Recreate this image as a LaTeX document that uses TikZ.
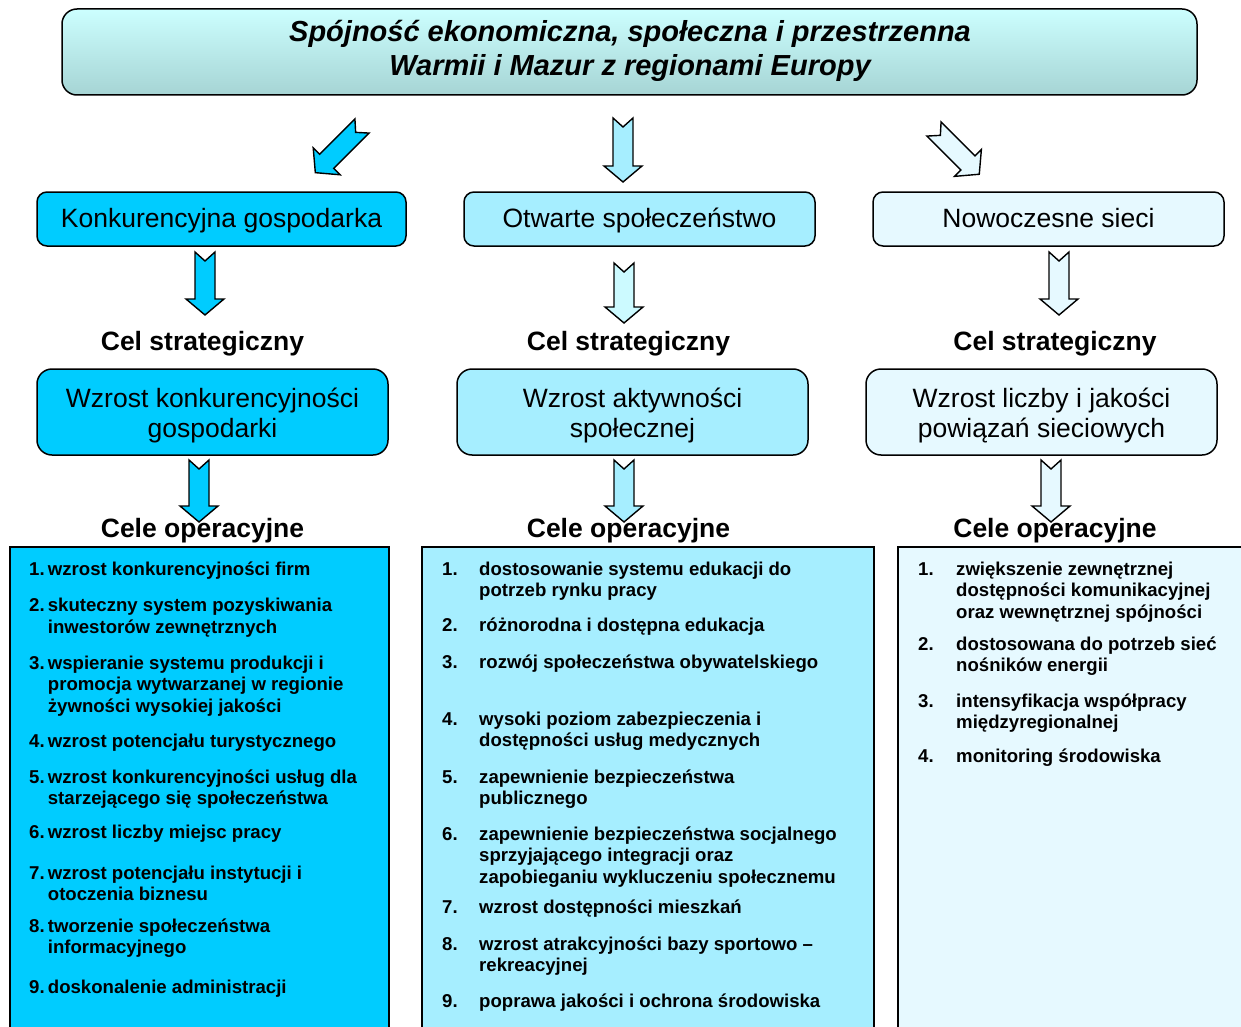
\documentclass[tikz,border=0pt]{standalone}
\usepackage{fontspec}
\setmainfont{Liberation Sans}
\definecolor{kblue}{HTML}{00CCFF}
\definecolor{mblue}{HTML}{A6EEFF}
\definecolor{lblue}{HTML}{E6F9FF}
\definecolor{marrow}{HTML}{CCFAFF}
\definecolor{ttop}{HTML}{CCFFFF}
\definecolor{tbot}{HTML}{A6D4D4}
\newcommand\mytitlefont{\fontsize{29}{34}\selectfont\bfseries\itshape}
\newcommand\myboxfont{\fontsize{26.5}{30}\selectfont}
\newcommand\mylabfont{\fontsize{26.5}{30}\selectfont\bfseries}
\newcommand\myitemfont{\fontsize{18.6}{21.5}\selectfont\bfseries}
\newcommand\istrut{\rule{0pt}{17pt}}
\tikzset{
  pics/blockarrow/.style 2 args={code={
    \filldraw[fill=#2, draw=black, line width=1.4pt, line join=miter]
      (-10,0) -- (0,9) -- (10,0) -- (10,#1-16) -- (19,#1-16) -- (0,#1)
      -- (-19,#1-16) -- (-10,#1-16) -- cycle;
  }}
}
\begin{document}
\begin{tikzpicture}[x=1pt,y=-1pt,
  box/.style={draw=black, line width=1.5pt, inner sep=0pt, align=center},
  onebox/.style={box, rounded corners=10pt, minimum height=54pt, text height=21pt, text depth=5pt, font=\myboxfont},
  twobox/.style={box, rounded corners=15pt, minimum height=86pt, minimum width=351pt, font=\myboxfont},
  lab/.style={font=\mylabfont, anchor=base, inner sep=0pt},
  listbox/.style={draw=black, line width=2pt, anchor=north west, minimum height=520pt, inner sep=0pt},
  num/.style={font=\myitemfont, anchor=base west, inner sep=0pt},
  itm/.style={font=\myitemfont, anchor=north west, inner sep=0pt, align=left}
]
\useasboundingbox (0,0) rectangle (1241,1027);
\clip (0,0) rectangle (1241,1027);

% title
\node[draw=black, line width=1.5pt, rounded corners=15pt, top color=ttop, bottom color=tbot,
      minimum width=1135pt, minimum height=86pt, inner sep=0pt] (title) at (629.5,52) {};
\node[font=\mytitlefont, align=center, anchor=north, inner sep=0pt] (titletext) at (630,14)
  {\rule{0pt}{27pt}Spójność ekonomiczna, społeczna i przestrzenna\\Warmii i Mazur z regionami Europy};

% first row boxes
\node[onebox, fill=kblue, minimum width=369pt] (g1) at (221.5,219) {Konkurencyjna gospodarka};
\node[onebox, fill=mblue, minimum width=351pt] (g2) at (639.5,219) {Otwarte społeczeństwo};
\node[onebox, fill=lblue, minimum width=351pt] (g3) at (1048.5,219) {Nowoczesne sieci};

% labels
\node[lab] (cs1) at (202.5,350) {Cel strategiczny};
\node[lab] (cs2) at (628.5,350) {Cel strategiczny};
\node[lab] (cs3) at (1055,350) {Cel strategiczny};

% second row boxes
\node[twobox, fill=kblue] (s1) at (212.5,412)
  {\rule{0pt}{27pt}Wzrost konkurencyjności\\gospodarki\rule[-7pt]{0pt}{7pt}};
\node[twobox, fill=mblue] (s2) at (632.5,412)
  {\rule{0pt}{27pt}Wzrost aktywności\\społecznej\rule[-7pt]{0pt}{7pt}};
\node[twobox, fill=lblue] (s3) at (1041.5,412)
  {\rule{0pt}{27pt}Wzrost liczby i jakości\\powiązań sieciowych\rule[-7pt]{0pt}{7pt}};

\node[lab] (co1) at (202.5,537) {Cele operacyjne};
\node[lab] (co2) at (628.5,537) {Cele operacyjne};
\node[lab] (co3) at (1055,537) {Cele operacyjne};

% arrows
\coordinate (a11) at (362,126);
\coordinate (a12) at (623,118);
\coordinate (a13) at (934,129);
\coordinate (a21) at (205,252);
\coordinate (a22) at (624,263);
\coordinate (a23) at (1059,252);
\coordinate (a31) at (199,460);
\coordinate (a32) at (624,460);
\coordinate (a33) at (1051,460);
\pic[rotate=-45] at (a11) {blockarrow={66}{kblue}};
\pic at (a12) {blockarrow={64}{mblue}};
\pic[rotate=45] at (a13) {blockarrow={64}{lblue}};
\pic at (a21) {blockarrow={63}{kblue}};
\pic at (a22) {blockarrow={60}{marrow}};
\pic at (a23) {blockarrow={63}{lblue}};
\pic at (a31) {blockarrow={62}{kblue}};
\pic at (a32) {blockarrow={62}{mblue}};
\pic at (a33) {blockarrow={62}{lblue}};

% list boxes
\node[listbox, fill=kblue, minimum width=379.5pt] (o1) at (8.5,546) {};
\node[listbox, fill=mblue, minimum width=452pt] (o2) at (421,546) {};
\node[listbox, fill=lblue, minimum width=370pt] (o3) at (897,546) {};

% left list
\node[num] (l1n) at (29,575) {1.};
\node[itm] (l1) at (47.7,558) {\istrut wzrost konkurencyjności firm};
\node[num] (l2n) at (29,611.7) {2.};
\node[itm] (l2) at (47.7,594.7) {\istrut skuteczny system pozyskiwania\\inwestorów zewnętrznych};
\node[num] (l3n) at (29,669) {3.};
\node[itm] (l3) at (47.7,652) {\istrut wspieranie systemu produkcji i\\promocja wytwarzanej w regionie\\żywności wysokiej jakości};
\node[num] (l4n) at (29,747) {4.};
\node[itm] (l4) at (47.7,730) {\istrut wzrost potencjału turystycznego};
\node[num] (l5n) at (29,783) {5.};
\node[itm] (l5) at (47.7,766) {\istrut wzrost konkurencyjności usług dla\\starzejącego się społeczeństwa};
\node[num] (l6n) at (29,838) {6.};
\node[itm] (l6) at (47.7,821) {\istrut wzrost liczby miejsc pracy};
\node[num] (l7n) at (29,879) {7.};
\node[itm] (l7) at (47.7,862) {\istrut wzrost potencjału instytucji i\\otoczenia biznesu};
\node[num] (l8n) at (29,932) {8.};
\node[itm] (l8) at (47.7,915) {\istrut tworzenie społeczeństwa\\informacyjnego};
\node[num] (l9n) at (29,993) {9.};
\node[itm] (l9) at (47.7,976) {\istrut doskonalenie administracji};

% middle list
\node[num] (m1n) at (442,575) {1.};
\node[itm] (m1) at (479,558) {\istrut dostosowanie systemu edukacji do\\potrzeb rynku pracy};
\node[num] (m2n) at (442,631.7) {2.};
\node[itm] (m2) at (479,614.7) {\istrut różnorodna i dostępna edukacja};
\node[num] (m3n) at (442,668) {3.};
\node[itm] (m3) at (479,651) {\istrut rozwój społeczeństwa obywatelskiego};
\node[num] (m4n) at (442,725) {4.};
\node[itm] (m4) at (479,708) {\istrut wysoki poziom zabezpieczenia i\\dostępności usług medycznych};
\node[num] (m5n) at (442,783) {5.};
\node[itm] (m5) at (479,766) {\istrut zapewnienie bezpieczeństwa\\publicznego};
\node[num] (m6n) at (442,840) {6.};
\node[itm] (m6) at (479,823) {\istrut zapewnienie bezpieczeństwa socjalnego\\sprzyjającego integracji oraz\\zapobieganiu wykluczeniu społecznemu};
\node[num] (m7n) at (442,913) {7.};
\node[itm] (m7) at (479,896) {\istrut wzrost dostępności mieszkań};
\node[num] (m8n) at (442,950) {8.};
\node[itm] (m8) at (479,933) {\istrut wzrost atrakcyjności bazy sportowo –\\rekreacyjnej};
\node[num] (m9n) at (442,1007) {9.};
\node[itm] (m9) at (479,990) {\istrut poprawa jakości i ochrona środowiska};

% right list
\node[num] (r1n) at (918,575) {1.};
\node[itm] (r1) at (956,558) {\istrut zwiększenie zewnętrznej\\dostępności komunikacyjnej\\oraz wewnętrznej spójności};
\node[num] (r2n) at (918,650) {2.};
\node[itm] (r2) at (956,633) {\istrut dostosowana do potrzeb sieć\\nośników energii};
\node[num] (r3n) at (918,707) {3.};
\node[itm] (r3) at (956,690) {\istrut intensyfikacja współpracy\\międzyregionalnej};
\node[num] (r4n) at (918,762) {4.};
\node[itm] (r4) at (956,745) {\istrut monitoring środowiska};
\end{tikzpicture}
\end{document}
